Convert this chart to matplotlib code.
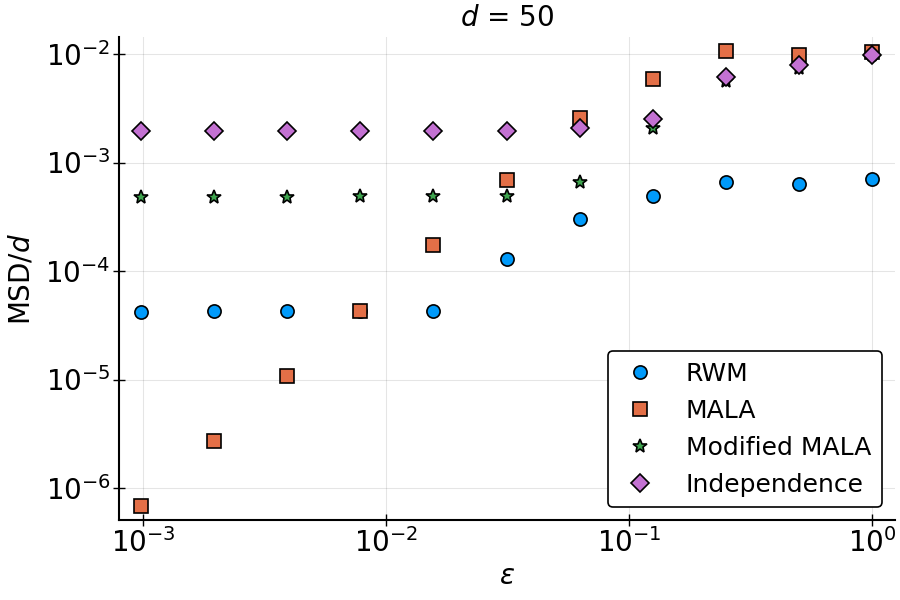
import numpy as np
import matplotlib
matplotlib.use("Agg")
import matplotlib.pyplot as plt

# step sizes eps = 2^-10 ... 2^0
eps = [2.0 ** k for k in range(-10, 1)]

rwm = [4.16e-5, 4.27e-5, 4.27e-5, 4.3e-5, 4.27e-5, 1.29e-4, 3.03e-4, 4.9e-4, 6.56e-4, 6.38e-4, 7.0e-4]
mala = [6.8e-7, 2.71e-6, 1.08e-5, 4.3e-5, 1.75e-4, 6.85e-4, 2.6e-3, 5.89e-3, 1.06e-2, 9.8e-3, 1.05e-2]
mod_mala = [4.85e-4, 4.85e-4, 4.85e-4, 4.9e-4, 4.9e-4, 4.9e-4, 6.65e-4, 2.07e-3, 5.7e-3, 7.4e-3, 9.8e-3]
indep = [1.96e-3, 1.96e-3, 1.96e-3, 1.96e-3, 1.96e-3, 1.95e-3, 2.08e-3, 2.54e-3, 6.14e-3, 7.87e-3, 9.8e-3]

series = [
    ("RWM", rwm, "o", 9.5, "#009AFA"),
    ("MALA", mala, "s", 9.5, "#E36F47"),
    ("Modified MALA", mod_mala, "*", 10.5, "#3EA44E"),
    ("Independence", indep, "D", 9.2, "#C371D2"),
]

fig = plt.figure(figsize=(9, 6), dpi=100)
ax = fig.add_axes([119 / 900, 1 - 520 / 600, (895 - 119) / 900, (520 - 37) / 600])

for name, vals, mk, ms, col in series:
    ax.plot(eps, vals, linestyle="none", marker=mk, markersize=ms,
            markerfacecolor=col, markeredgecolor="black", markeredgewidth=1.2,
            label=name, zorder=3)

ax.set_xscale("log")
ax.set_yscale("log")
ax.set_xlim(10 ** -3.1, 10 ** 0.093)
ax.set_ylim(10 ** -6.295, 10 ** -1.843)

ax.set_xticks([1e-3, 1e-2, 1e-1, 1e0])
ax.set_xticklabels([r"$10^{-3}$", r"$10^{-2}$", r"$10^{-1}$", r"$10^{0}$"])
ax.set_yticks([1e-6, 1e-5, 1e-4, 1e-3, 1e-2])
ax.set_yticklabels([r"$10^{-6}$", r"$10^{-5}$", r"$10^{-4}$", r"$10^{-3}$", r"$10^{-2}$"])
ax.minorticks_off()
ax.tick_params(axis="both", which="major", direction="inout", length=8, width=1,
               labelsize=20, pad=2)

ax.grid(True, color="black", alpha=0.1, linewidth=0.8)
ax.set_axisbelow(True)
for s in ("top", "right"):
    ax.spines[s].set_visible(False)
for s in ("left", "bottom"):
    ax.spines[s].set_linewidth(1.5)

ax.set_title(r"$d$ = 50", fontsize=20, pad=8)
ax.set_xlabel(r"$\varepsilon$", fontsize=20, labelpad=3)
ax.set_ylabel(r"MSD/$d$", fontsize=20, labelpad=7)

leg = ax.legend(loc="lower right", bbox_to_anchor=(0.983, 0.026), borderaxespad=0,
                fontsize=18, frameon=True, fancybox=True, framealpha=1,
                edgecolor="black", labelspacing=0.52, handletextpad=1.0,
                borderpad=0.42, handlelength=1.7)
leg.get_frame().set_linewidth(1.2)

fig.savefig("out.png", dpi=100)
